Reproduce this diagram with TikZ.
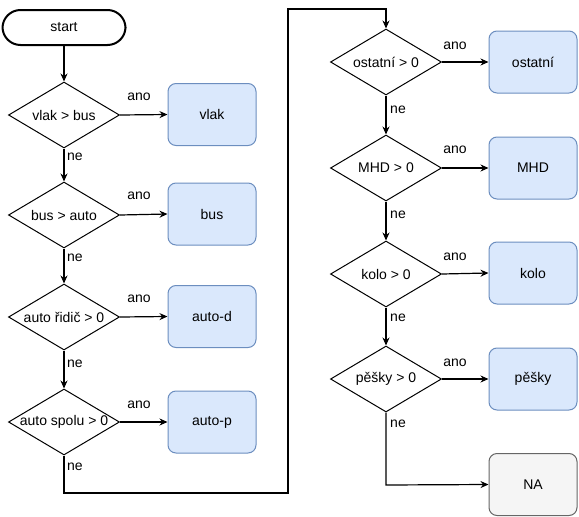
\documentclass[tikz,border=0pt]{standalone}
\usepackage{fontspec}
\setmainfont{Liberation Sans}
\usetikzlibrary{shapes.geometric,arrows.meta}
\definecolor{boxfill}{HTML}{DAE8FC}
\definecolor{boxline}{HTML}{6C8EBF}
\definecolor{nafill}{HTML}{F5F5F5}
\definecolor{naline}{HTML}{666666}
\tikzset{
  every node/.style={font=\fontsize{14}{16}\selectfont},
  dec/.style={diamond, draw=black, line width=1pt, minimum width=111pt, minimum height=66pt, inner sep=0pt},
  res/.style={rectangle, rounded corners=8pt, draw=boxline, fill=boxfill, line width=1pt, minimum width=88pt, minimum height=62pt, inner sep=0pt},
  nabox/.style={rectangle, rounded corners=8pt, draw=naline, fill=nafill, line width=1pt, minimum width=88pt, minimum height=62pt, inner sep=0pt},
  term/.style={rectangle, rounded corners=18pt, draw=black, line width=2pt, minimum width=123pt, minimum height=35pt, inner sep=0pt},
  arr/.style={draw=black, line width=1.2pt, -{Stealth[length=8pt,width=7pt]}},
  lbl/.style={inner sep=0pt}
}
\begin{document}
\begin{tikzpicture}[x=1pt,y=-1pt]
\useasboundingbox (0,0) rectangle (579,517);
% start
\node[term] (start) at (64,27.5) {start};
% left column decisions
\node[dec] (d1) at (64,115) {\makebox[0pt]{vlak > bus}};
\node[dec] (d2) at (64,215) {\makebox[0pt]{bus > auto}};
\node[dec] (d3) at (64,317) {\makebox[0pt]{auto řidič > 0}};
\node[dec] (d4) at (64,422) {\makebox[0pt]{auto spolu > 0}};
% left column results
\node[res] (vlak) at (212,114.5) {vlak};
\node[res] (bus) at (212,214) {bus};
\node[res] (autod) at (212,316.5) {auto-d};
\node[res] (autop) at (212,422) {auto-p};
% right column decisions
\node[dec] (d5) at (386,62) {\makebox[0pt]{ostatní > 0}};
\node[dec] (d6) at (386,168) {\makebox[0pt]{MHD > 0}};
\node[dec] (d7) at (386,274) {\makebox[0pt]{kolo > 0}};
\node[dec] (d8) at (386,379) {\makebox[0pt]{pěšky > 0}};
% right column results
\node[res] (ost) at (533,62) {ostatní};
\node[res] (mhd) at (533,168) {MHD};
\node[res] (kolo) at (533,273) {kolo};
\node[res] (pesky) at (533,379) {pěšky};
\node[nabox] (na) at (533,484.5) {NA};
% bend coordinates
\coordinate (b1) at (64,493);
\coordinate (b2) at (288,9);
\coordinate (b3) at (386,485);
% vertical flow
\draw[arr] (start) -- (d1);
\draw[arr] (d1) -- (d2);
\draw[arr] (d2) -- (d3);
\draw[arr] (d3) -- (d4);
\draw[arr] (d4.south) -- (b1) -| (b2) -| (d5.north);
\draw[arr] (d5) -- (d6);
\draw[arr] (d6) -- (d7);
\draw[arr] (d7) -- (d8);
\draw[arr] (d8.south) -- (b3) -- (na.west);
% yes branches
\draw[arr] (d1.east) -- (vlak.west);
\draw[arr] (d2.east) -- (bus.west);
\draw[arr] (d3.east) -- (autod.west);
\draw[arr] (d4.east) -- (autop.west);
\draw[arr] (d5.east) -- (ost.west);
\draw[arr] (d6.east) -- (mhd.west);
\draw[arr] (d7.east) -- (kolo.west);
\draw[arr] (d8.east) -- (pesky.west);
% labels
\node[lbl] (a1) at (139,97) {ano};
\node[lbl] (a2) at (139,196) {ano};
\node[lbl] (a3) at (139,299) {ano};
\node[lbl] (a4) at (139,405) {ano};
\node[lbl] (a5) at (455,46) {ano};
\node[lbl] (a6) at (455,150) {ano};
\node[lbl] (a7) at (455,257) {ano};
\node[lbl] (a8) at (455,363) {ano};
\node[lbl] (n1) at (75,157) {ne};
\node[lbl] (n2) at (75,258) {ne};
\node[lbl] (n3) at (75,364) {ne};
\node[lbl] (n4) at (75,467) {ne};
\node[lbl] (n5) at (398,110) {ne};
\node[lbl] (n6) at (398,215) {ne};
\node[lbl] (n7) at (398,318) {ne};
\node[lbl] (n8) at (398,424) {ne};
\end{tikzpicture}
\end{document}
